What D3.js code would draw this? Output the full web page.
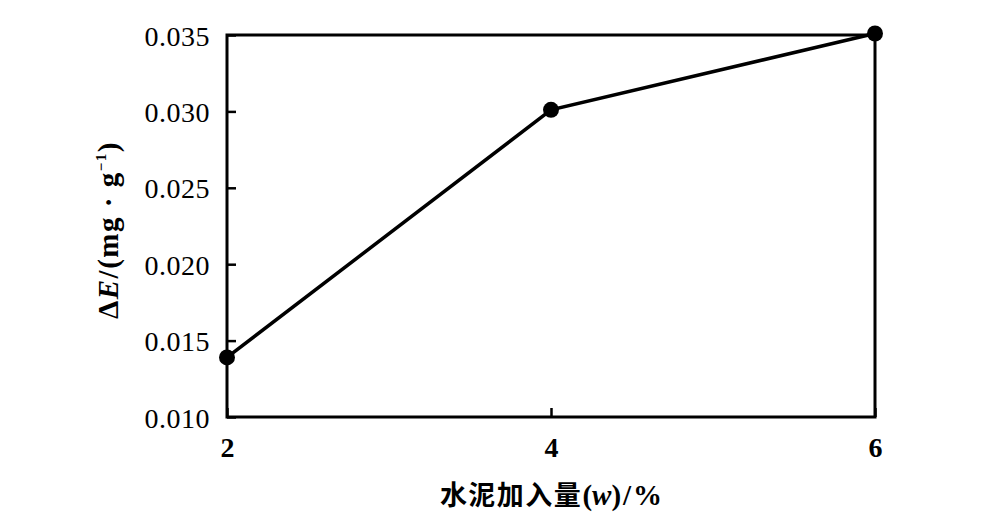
<!DOCTYPE html>
<html><head><meta charset="utf-8">
<script src="https://cdn.jsdelivr.net/npm/d3@7"></script>
<style>body{margin:0;background:#fff}svg{display:block}</style>
</head><body>
<script>
const cementPct = [2, 4, 6];
const deltaE = [0.0139, 0.0301, 0.0351];
const yTicks = [0.010, 0.015, 0.020, 0.025, 0.030, 0.035];
const xTicks = [2, 4, 6];

const W = 986, H = 515;
const m = {l: 227, r: 986 - 875, t: 35, b: 515 - 417};
const svg = d3.select("body").append("svg").attr("width", W).attr("height", H);
const x = d3.scaleLinear().domain([2, 6]).range([m.l, W - m.r]);
const y = d3.scaleLinear().domain([0.010, 0.035]).range([H - m.b, m.t]);
const font = "'Liberation Serif','DejaVu Serif',serif";

// frame
svg.append("rect").attr("x", m.l).attr("y", m.t)
  .attr("width", x(6) - m.l).attr("height", y(0.010) - m.t)
  .attr("fill", "none").attr("stroke", "#000").attr("stroke-width", 3);

const yAxis = svg.append("g").attr("transform", `translate(${m.l},0)`)
  .call(d3.axisLeft(y).tickValues(yTicks).tickFormat(d3.format(".3f")).tickSizeInner(-9).tickSizeOuter(0).tickPadding(17));
yAxis.select(".domain").remove();
yAxis.selectAll("line").attr("stroke-width", 2.5);
yAxis.selectAll("text").attr("font-family", font).attr("font-size", 28).attr("fill", "#000")
  .attr("letter-spacing", 0.5).attr("dy", "0.36em");

const xAxis = svg.append("g").attr("transform", `translate(0,${H - m.b})`)
  .call(d3.axisBottom(x).tickValues(xTicks).tickFormat(d3.format("d")).tickSizeInner(-9).tickSizeOuter(0).tickPadding(20));
xAxis.select(".domain").remove();
xAxis.selectAll("line").attr("stroke-width", 2.5);
xAxis.selectAll("text").attr("font-family", font).attr("font-size", 28).attr("font-weight", "bold").attr("fill", "#000");

const pts = cementPct.map((c, i) => [c, deltaE[i]]);
svg.append("path").datum(pts)
  .attr("d", d3.line().x(d => x(d[0])).y(d => y(d[1])))
  .attr("fill", "none").attr("stroke", "#000").attr("stroke-width", 3.5);
svg.selectAll("circle.pt").data(pts).join("circle").attr("class", "pt")
  .attr("cx", d => x(d[0])).attr("cy", d => y(d[1])).attr("r", 8).attr("fill", "#000");

// x label
const xl = svg.append("text").attr("x", 552).attr("y", 505).attr("text-anchor", "middle")
  .attr("font-weight", "bold").attr("fill", "#000");
xl.append("tspan").attr("font-family", "'Noto Sans CJK SC'").attr("font-size", 27).attr("letter-spacing", 1.5).text("水泥加入量");
xl.append("tspan").attr("font-family", font).attr("font-size", 29).text("(");
xl.append("tspan").attr("font-family", font).attr("font-size", 29).attr("font-style", "italic").text("w");
xl.append("tspan").attr("font-family", font).attr("font-size", 29).attr("letter-spacing", 2).text(")/%");

// y label
const yl = svg.append("text").attr("transform", "translate(118,230) rotate(-90)")
  .attr("text-anchor", "middle").attr("font-family", font).attr("font-size", 29)
  .attr("letter-spacing", 1.5).attr("font-weight", "bold").attr("fill", "#000");
yl.append("tspan").text("Δ");
yl.append("tspan").attr("font-style", "italic").text("E");
yl.append("tspan").text("/(mg · g");
yl.append("tspan").attr("font-size", 15).attr("dy", -12).text("−1");
yl.append("tspan").attr("dy", 12).text(")");
</script>
</body></html>
